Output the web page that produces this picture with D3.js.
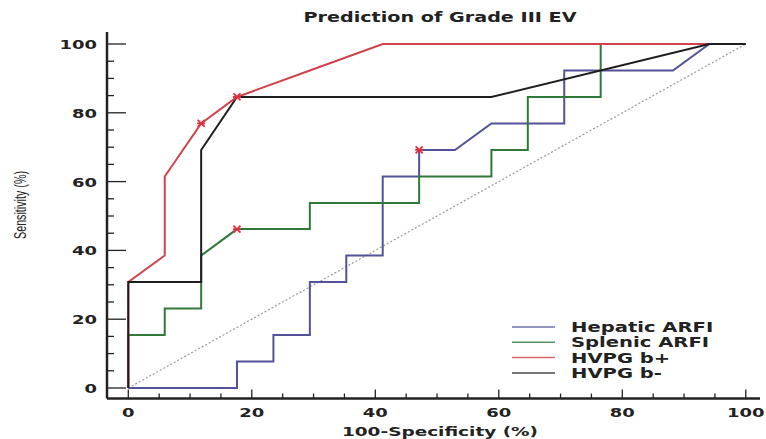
<!DOCTYPE html>
<head>
  <meta charset="utf-8" />
  <script src="https://d3js.org/d3.v7.min.js"></script>
  <style>
    body { margin: 0; background: white; }
    text { font-family: "DejaVu Sans", sans-serif; font-weight: bold; fill: #222; }
  </style>
</head>
<body>
  <script>
    // ROC points: [100-specificity, sensitivity]
    var hepatic = [[0,0],[17.6,0],[17.6,7.7],[23.5,7.7],[23.5,15.4],[29.4,15.4],[29.4,30.8],[35.3,30.8],[35.3,38.5],[41.2,38.5],[41.2,61.5],[47.1,61.5],[47.1,69.2],[52.9,69.2],[58.8,76.9],[70.6,76.9],[70.6,92.3],[88.2,92.3],[94.1,100],[100,100]];
    var splenic = [[0,0],[0,15.4],[5.9,15.4],[5.9,23.1],[11.8,23.1],[11.8,38.5],[17.6,46.2],[29.4,46.2],[29.4,53.8],[47.1,53.8],[47.1,61.5],[58.8,61.5],[58.8,69.2],[64.7,69.2],[64.7,84.6],[76.5,84.6],[76.5,100],[100,100]];
    var hvpgPlus = [[0,0],[0,30.8],[5.9,38.5],[5.9,61.5],[11.8,76.9],[17.6,84.6],[29.4,92.3],[41.2,100],[100,100]];
    var hvpgMinus = [[0,0],[0,30.8],[11.8,30.8],[11.8,69.2],[17.6,84.6],[58.8,84.6],[94.1,100],[100,100]];
    // optimal cut-off markers
    var markers = [[47.1,69.2],[17.6,46.2],[11.8,76.9],[17.6,84.6]];

    var seriesNames = ["Hepatic ARFI", "Splenic ARFI", "HVPG b+", "HVPG b-"];
    var seriesColors = ["#52529c", "#2f7a38", "#d2424c", "#1e1e1e"];
    var xTicks = [0, 20, 40, 60, 80, 100];
    var yTicks = [0, 20, 40, 60, 80, 100];

    var width = 766, height = 439;
    var svg = d3.select("body").append("svg").attr("width", width).attr("height", height);

    var x = d3.scaleLinear().domain([0, 100]).range([128.3, 745.8]);
    var y = d3.scaleLinear().domain([0, 100]).range([388, 44]);
    var axisX = 107, axisY = 398.5;

    // the original font is a wide bold face, so stretch the text a bit
    function widen(sel, k) {
      sel.each(function () {
        var w = this.getComputedTextLength();
        d3.select(this).attr("textLength", w * k).attr("lengthAdjust", "spacingAndGlyphs");
      });
      return sel;
    }

    // diagonal reference
    svg.append("line")
      .attr("x1", x(0)).attr("y1", y(0)).attr("x2", x(100)).attr("y2", y(100))
      .attr("stroke", "#999").attr("stroke-width", 1.2).attr("stroke-dasharray", "2,2");

    var line = d3.line().x(d => x(d[0])).y(d => y(d[1]));
    [hepatic, splenic, hvpgPlus, hvpgMinus].forEach(function (s, i) {
      svg.append("path").attr("d", line(s)).attr("fill", "none")
        .attr("stroke", seriesColors[i]).attr("stroke-width", 2);
    });

    // markers
    markers.forEach(function (m) {
      var g = svg.append("g").attr("transform", "translate(" + x(m[0]) + "," + y(m[1]) + ")");
      g.append("path").attr("d", "M-3.5,-3.5L3.5,3.5M-3.5,3.5L3.5,-3.5M-4,0L4,0")
        .attr("stroke", "#e03040").attr("stroke-width", 1.8);
    });

    // y axis
    svg.append("line").attr("x1", axisX).attr("x2", axisX).attr("y1", 32).attr("y2", axisY)
      .attr("stroke", "#222").attr("stroke-width", 2.5);
    d3.range(0, 101, 5).forEach(function (v) {
      var major = v % 20 === 0;
      svg.append("line").attr("x1", axisX).attr("x2", axisX + (major ? 19 : 7))
        .attr("y1", y(v)).attr("y2", y(v)).attr("stroke", "#222").attr("stroke-width", 1.3);
    });
    yTicks.forEach(function (v) {
      widen(svg.append("text").attr("x", 97).attr("y", y(v) + 5).attr("text-anchor", "end")
        .style("font-size", "13px").text(v), 1.38);
    });

    // x axis
    svg.append("line").attr("x1", axisX).attr("x2", 760).attr("y1", axisY).attr("y2", axisY)
      .attr("stroke", "#222").attr("stroke-width", 2.5);
    d3.range(0, 101, 5).forEach(function (v) {
      var major = v % 20 === 0;
      svg.append("line").attr("x1", x(v)).attr("x2", x(v))
        .attr("y1", axisY).attr("y2", axisY - (major ? 9 : 5)).attr("stroke", "#222").attr("stroke-width", 1.3);
    });
    xTicks.forEach(function (v) {
      widen(svg.append("text").attr("x", x(v)).attr("y", 417).attr("text-anchor", "middle")
        .style("font-size", "13px").text(v), 1.38);
    });

    // titles
    widen(svg.append("text").attr("x", 440).attr("y", 22).attr("text-anchor", "middle")
      .style("font-size", "13.5px").text("Prediction of Grade III EV"), 1.42);
    widen(svg.append("text").attr("x", 440).attr("y", 436).attr("text-anchor", "middle")
      .style("font-size", "13px").text("100-Specificity (%)"), 1.42);
    svg.append("text").attr("transform", "translate(26,205) rotate(-90)")
      .attr("text-anchor", "middle").attr("textLength", 68).attr("lengthAdjust", "spacingAndGlyphs")
      .style("font-family", "'Liberation Sans', Arial, sans-serif").style("font-weight", "normal")
      .style("font-size", "16px").text("Sensitivity (%)");

    // legend
    seriesNames.forEach(function (n, i) {
      var ly = 327 + i * 15.3;
      svg.append("line").attr("x1", 512).attr("x2", 555).attr("y1", ly).attr("y2", ly)
        .attr("stroke", seriesColors[i]).attr("stroke-width", 1.5).attr("opacity", 0.8);
      widen(svg.append("text").attr("x", 571).attr("y", ly + 5).style("font-size", "13.5px").text(n), 1.45);
    });
  </script>
</body>
